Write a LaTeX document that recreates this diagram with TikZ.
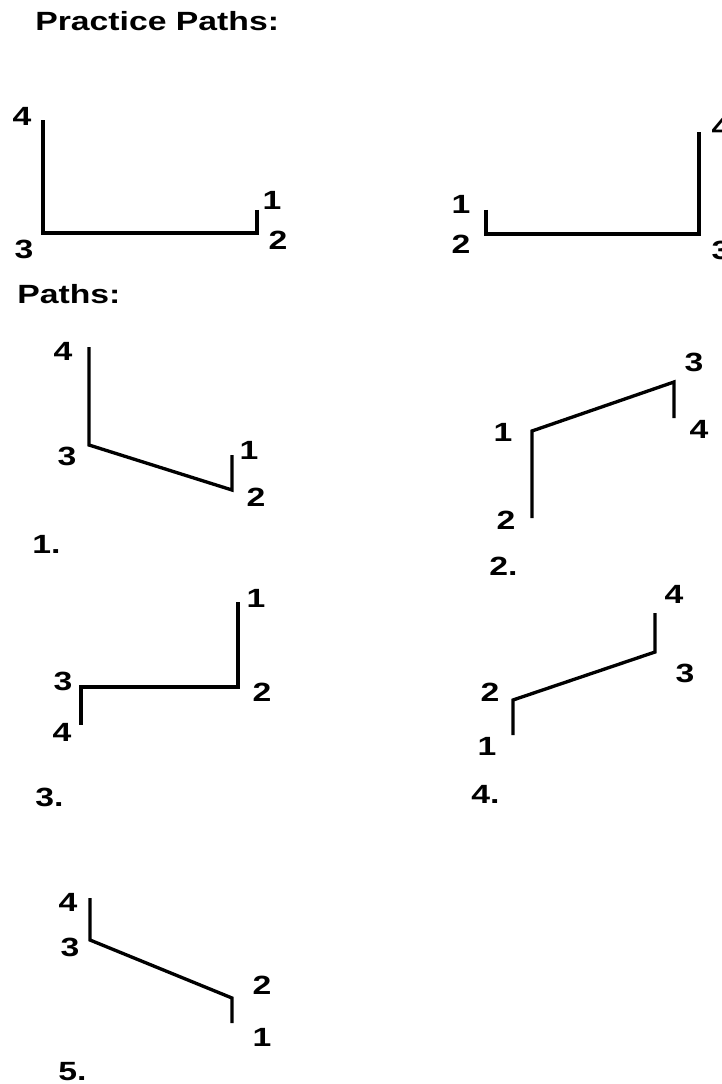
\documentclass[tikz,border=0pt]{standalone}
\usepackage{fontspec}
\setmainfont{Liberation Sans}[FakeStretch=1.28]

\begin{document}
\begin{tikzpicture}[x=0.02cm,y=-0.02cm,
    pathline/.style={line width=1.9pt},
    num/.style={inner sep=0pt,font=\fontsize{15}{17}\selectfont\bfseries},
    heading/.style={num,anchor=west}]
            % page frame
            \useasboundingbox (0,0) rectangle (722,1084);

            % headings
            \node[heading] (practice) at (35,21) {Practice Paths:};
            \node[heading] (paths) at (17,294) {Paths:};

            % practice path, left
            \coordinate (a1) at (257,210);
            \coordinate (a2) at (257,233);
            \coordinate (a3) at (43,233);
            \coordinate (a4) at (43,120);
            \draw[pathline] (a1) -- (a2) -- (a3) -- (a4);
            \node[num] (a1l) at (272,200) {1};
            \node[num] (a2l) at (278,240) {2};
            \node[num] (a3l) at (24,249) {3};
            \node[num] (a4l) at (22,116) {4};

            % practice path, right
            \coordinate (b1) at (486,210);
            \coordinate (b2) at (486,234);
            \coordinate (b3) at (699,234);
            \coordinate (b4) at (699,132);
            \draw[pathline] (b1) -- (b2) -- (b3) -- (b4);
            \node[num] (b1l) at (461,204) {1};
            \node[num] (b2l) at (461,244) {2};
            \node[num] (b3l) at (721,250) {3};
            \node[num] (b4l) at (721,127) {4};

            % path 1
            \coordinate (c1) at (232,455);
            \coordinate (c2) at (232,490);
            \coordinate (c3) at (89,445);
            \coordinate (c4) at (89,347);
            \draw[pathline] (c1) -- (c2) -- (c3) -- (c4);
            \node[num] (c1l) at (249,450) {1};
            \node[num] (c2l) at (256,497) {2};
            \node[num] (c3l) at (67,456) {3};
            \node[num] (c4l) at (63,351) {4};
            \node[heading] (c) at (32,544) {1.};

            % path 2
            \coordinate (d1) at (532,431);
            \coordinate (d2) at (532,518);
            \coordinate (d3) at (674,382);
            \coordinate (d4) at (674,418);
            \draw[pathline] (d2) -- (d1) -- (d3) -- (d4);
            \node[num] (d1l) at (503,432) {1};
            \node[num] (d2l) at (506,520) {2};
            \node[num] (d3l) at (694,362) {3};
            \node[num] (d4l) at (699,429) {4};
            \node[heading] (d) at (489,566) {2.};

            % path 3
            \coordinate (e1) at (238,602);
            \coordinate (e2) at (238,687);
            \coordinate (e3) at (81,687);
            \coordinate (e4) at (81,725);
            \draw[pathline] (e1) -- (e2) -- (e3) -- (e4);
            \node[num] (e1l) at (256,598) {1};
            \node[num] (e2l) at (262,692) {2};
            \node[num] (e3l) at (63,681) {3};
            \node[num] (e4l) at (62,732) {4};
            \node[heading] (e) at (35,797) {3.};

            % path 4
            \coordinate (f1) at (513,735);
            \coordinate (f2) at (513,700);
            \coordinate (f3) at (655,652);
            \coordinate (f4) at (655,613);
            \draw[pathline] (f1) -- (f2) -- (f3) -- (f4);
            \node[num] (f1l) at (487,746) {1};
            \node[num] (f2l) at (490,692) {2};
            \node[num] (f3l) at (685,673) {3};
            \node[num] (f4l) at (674,594) {4};
            \node[heading] (f) at (471,794) {4.};

            % path 5
            \coordinate (g1) at (232,1023);
            \coordinate (g2) at (232,998);
            \coordinate (g3) at (90,940);
            \coordinate (g4) at (90,898);
            \draw[pathline] (g1) -- (g2) -- (g3) -- (g4);
            \node[num] (g1l) at (262,1037) {1};
            \node[num] (g2l) at (262,985) {2};
            \node[num] (g3l) at (70,947) {3};
            \node[num] (g4l) at (68,902) {4};
            \node[heading] (g) at (58,1072) {5.};
        \end{tikzpicture}
\end{document}
